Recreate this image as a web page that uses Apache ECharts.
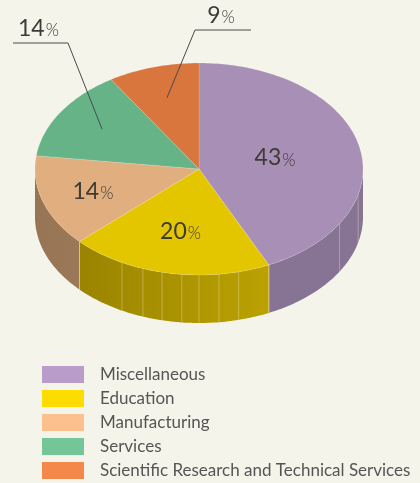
<!DOCTYPE html>
<html>
<head>
<meta charset="utf-8">
<script src="https://cdn.jsdelivr.net/npm/echarts@6/dist/echarts.min.js"></script>
<style>
html,body{margin:0;padding:0;background:#f5f4ea;}
#chart{width:420px;height:483px;}
</style>
</head>
<body>
<div id="chart"></div>
<script>
// ---- data ----
const categories = ['Miscellaneous', 'Education', 'Manufacturing', 'Services', 'Scientific Research and Technical Services'];
const values = [43, 20, 14, 14, 9];

// ---- styles ----
const topColors = ['#a78fb5', '#e4c600', '#e0ae7f', '#66b387', '#d8763e'];
const sideColors = [
  ['#877495', '#877495'],
  ['#9a8400', '#bba200'],
  ['#967454', '#9a7858'],
  ['#4f8c69', '#4f8c69'],
  ['#a85a2e', '#a85a2e']
];
const legendColors = ['#b99cc9', '#ffdc00', '#fbc08d', '#74c698', '#f4874a'];
const seamAngles = [104, 121, 166, 173, 180, 186, 193, 200, 208];
const depth = 48 / 106;
const labelCfg = [
  { k: 0.475 },
  { k: 0.6 },
  { k: 0.68 },
  { k: 0.7, elbow: [68, 43], end: [13, 43] },
  { k: 0.7, elbow: [195, 30], end: [251, 30] }
];

const total = values.reduce((a, b) => a + b, 0);
const starts = [];
values.reduce((acc, v, i) => { starts[i] = acc; return acc + v; }, 0);

function pt(api, deg, r, off) {
  const t = deg * Math.PI / 180;
  return api.coord([r * Math.sin(t), r * Math.cos(t) + (off || 0)]);
}

function sideRender(i) {
  return function (params, api) {
    const s0 = api.value(0), v = api.value(1);
    let a1 = s0 / total * 360, a2 = (s0 + v) / total * 360;
    a1 = Math.max(a1, 90); a2 = Math.min(a2, 270);
    if (a2 <= a1) return { type: 'group', children: [] };
    const n = Math.max(2, Math.ceil(a2 - a1));
    const pts = [];
    for (let k = 0; k <= n; k++) pts.push(pt(api, a1 + (a2 - a1) * k / n, 1, 0));
    for (let k = n; k >= 0; k--) pts.push(pt(api, a1 + (a2 - a1) * k / n, 1, -depth));
    const children = [{
      type: 'polygon',
      shape: { points: pts },
      style: {
        fill: new echarts.graphic.LinearGradient(1, 0, 0, 0, [
          { offset: 0, color: sideColors[i][1] },
          { offset: 1, color: sideColors[i][0] }
        ]),
        stroke: null
      }
    }];
    seamAngles.forEach(function (a) {
      if (a > a1 + 0.5 && a < a2 - 0.5) {
        const p1 = pt(api, a, 1, 0), p2 = pt(api, a, 1, -depth);
        children.push({
          type: 'line',
          shape: { x1: p1[0], y1: p1[1], x2: p2[0], y2: p2[1] },
          style: { stroke: 'rgba(240,232,190,0.45)', lineWidth: 0.8 }
        });
      }
    });
    [a1, a2].forEach(function (a) {
      if (a > 90.5 && a < 269.5) {
        const p1 = pt(api, a, 1, 0), p2 = pt(api, a, 1, -depth);
        children.push({
          type: 'line',
          shape: { x1: p1[0], y1: p1[1], x2: p2[0], y2: p2[1] },
          style: { stroke: 'rgba(240,232,200,0.55)', lineWidth: 0.8 }
        });
      }
    });
    return { type: 'group', children: children };
  };
}

function topRender(i) {
  return function (params, api) {
    const s0 = api.value(0), v = api.value(1);
    const a1 = s0 / total * 360, a2 = (s0 + v) / total * 360;
    const n = Math.max(2, Math.ceil(a2 - a1));
    const pts = [api.coord([0, 0])];
    for (let k = 0; k <= n; k++) pts.push(pt(api, a1 + (a2 - a1) * k / n, 1, 0));
    const children = [{
      type: 'polygon',
      shape: { points: pts },
      style: { fill: topColors[i], stroke: 'rgba(255,255,255,0.25)', lineWidth: 0.6 }
    }];
    const mid = (a1 + a2) / 2;
    const cfg = labelCfg[i];
    const lp = pt(api, mid, cfg.k, 0);
    const txt = {
      text: '{n|' + v + '}{p|%}',
      rich: {
        n: { fontFamily: 'Lato', fontWeight: 400, fontSize: 23, fill: '#3d3b37' },
        p: { fontFamily: 'Lato', fontWeight: 300, fontSize: 17, fill: '#3d3b37', padding: [4, 0, 0, 1] }
      }
    };
    if (cfg.elbow) {
      children.push({
        type: 'polyline',
        shape: { points: [lp, cfg.elbow, cfg.end] },
        style: { stroke: '#4a4a4a', lineWidth: 1, fill: null }
      });
      const cx = (cfg.elbow[0] + cfg.end[0]) / 2 - 2;
      children.push({
        type: 'text', x: cx, y: cfg.end[1] - 14,
        style: Object.assign({ align: 'center', verticalAlign: 'middle' }, txt)
      });
    } else {
      children.push({
        type: 'text', x: lp[0], y: lp[1],
        style: Object.assign({ align: 'center', verticalAlign: 'middle' }, txt)
      });
    }
    return { type: 'group', children: children };
  };
}

const series = [];
categories.forEach(function (name, i) {
  series.push({
    type: 'custom', name: 'side-' + i, coordinateSystem: 'cartesian2d',
    renderItem: sideRender(i), data: [[starts[i], values[i]]], z: 1, silent: true,
    encode: { x: -1, y: -1 }
  });
});
categories.forEach(function (name, i) {
  series.push({
    type: 'custom', name: name, coordinateSystem: 'cartesian2d',
    renderItem: topRender(i), data: [[starts[i], values[i]]], z: 2, silent: true,
    itemStyle: { color: legendColors[i] },
    encode: { x: -1, y: -1 }
  });
});

const chart = echarts.init(document.getElementById('chart'), null, { renderer: 'canvas' });
chart.setOption({
  backgroundColor: '#f5f4ea',
  animation: false,
  grid: { left: 35, top: 63, width: 328, height: 212 },
  xAxis: { type: 'value', min: -1, max: 1, show: false },
  yAxis: { type: 'value', min: -1, max: 1, show: false },
  legend: {
    orient: 'vertical', left: 42, top: 366, height: 200, width: 400,
    padding: 0,
    itemWidth: 42, itemHeight: 17, itemGap: 7,
    icon: 'rect', selectedMode: false,
    data: categories.map(function (n, i) { return { name: n, itemStyle: { color: legendColors[i] } }; }),
    textStyle: { fontFamily: 'Lato', fontSize: 17, color: '#555', padding: [0, 0, 0, 11] }
  },
  series: series
});
</script>
</body>
</html>
